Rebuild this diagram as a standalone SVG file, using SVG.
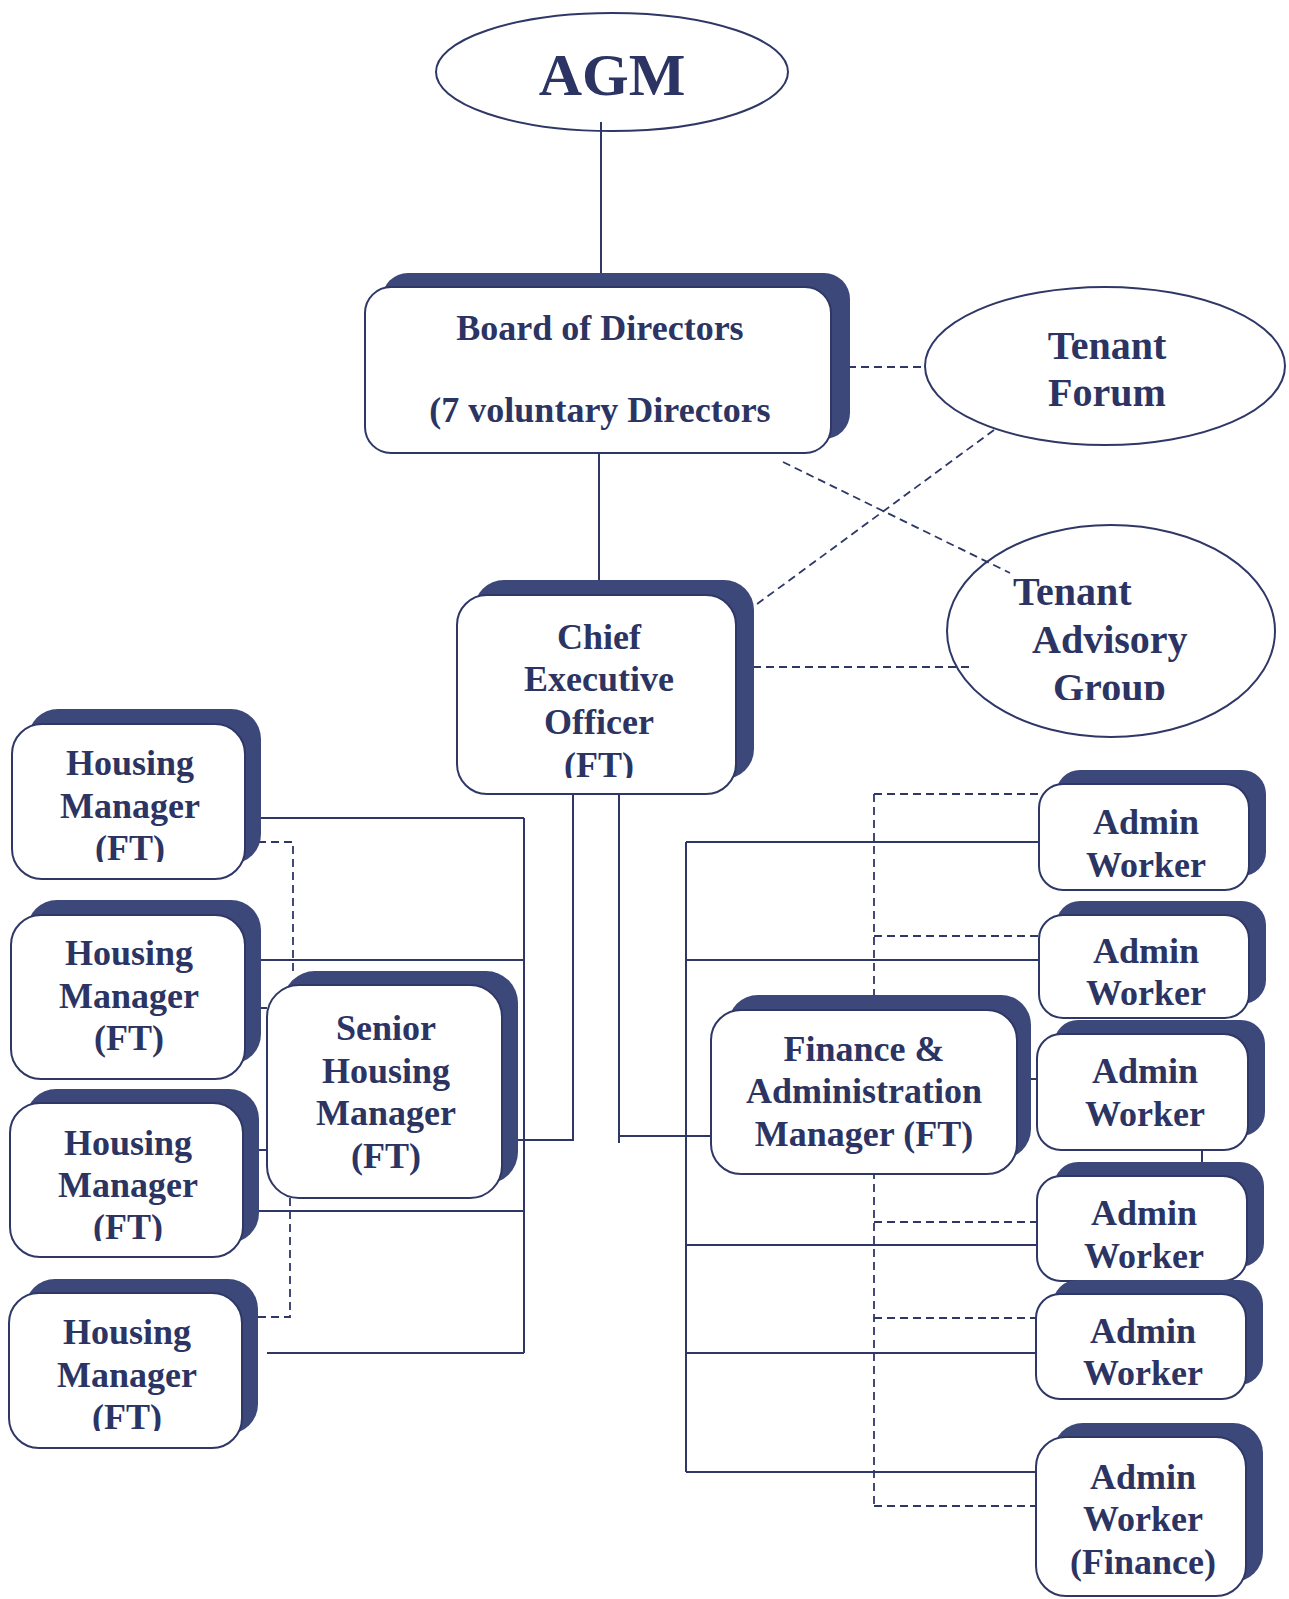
<svg xmlns="http://www.w3.org/2000/svg" width="1289" height="1599" viewBox="0 0 1289 1599">
<style>
.bg{fill:#ffffff}
.sh{fill:#3b4879}
.box{fill:#ffffff;stroke:#2e3766;stroke-width:2}
.ell{fill:none;stroke:#2e3766;stroke-width:2}
.ln{fill:none;stroke:#2e3766;stroke-width:2}
.dash{fill:none;stroke:#2e3766;stroke-width:1.8;stroke-dasharray:8 5}
.t{font-family:"Liberation Serif","Times New Roman",serif;font-weight:bold;fill:#2b3462;text-anchor:middle;font-size:36px}
.tl{font-family:"Liberation Serif","Times New Roman",serif;font-weight:bold;fill:#2b3462;font-size:40px}
</style>
<defs>
<clipPath id="cCEO"><rect x="440" y="560" width="320" height="218"/></clipPath>
<clipPath id="cHM1"><rect x="0" y="700" width="270" height="162"/></clipPath>
<clipPath id="cHM3"><rect x="0" y="1080" width="270" height="161"/></clipPath>
<clipPath id="cHM4"><rect x="0" y="1270" width="270" height="161"/></clipPath>
<clipPath id="cTAG"><rect x="940" y="520" width="340" height="180"/></clipPath>
</defs>
<rect class="bg" x="0" y="0" width="1289" height="1599"/>

<g id="connectors">
<line class="ln" x1="601" y1="122" x2="601" y2="287"/>
<line class="ln" x1="599" y1="453" x2="599" y2="581"/>
<line class="dash" x1="848" y1="367" x2="926" y2="367"/>
<line class="dash" x1="994" y1="430" x2="753" y2="607"/>
<line class="dash" x1="783" y1="462" x2="1010" y2="573"/>
<line class="dash" x1="753" y1="667" x2="969" y2="667"/>
<polyline class="ln" points="573,795 573,1140 502,1140"/>
<polyline class="ln" points="619,795 619,1143"/>
<line class="ln" x1="619" y1="1136" x2="711" y2="1136"/>
<line class="ln" x1="524" y1="818" x2="524" y2="1353"/>
<line class="ln" x1="245" y1="818" x2="524" y2="818"/>
<line class="ln" x1="245" y1="960" x2="524" y2="960"/>
<line class="ln" x1="243" y1="1211" x2="524" y2="1211"/>
<line class="ln" x1="267" y1="1353" x2="524" y2="1353"/>
<line class="ln" x1="245" y1="1008" x2="267" y2="1008"/>
<line class="ln" x1="243" y1="1150" x2="267" y2="1150"/>
<polyline class="dash" points="245,842 293,842 293,971"/>
<polyline class="dash" points="245,1317 290,1317 290,1188"/>
<line class="ln" x1="686" y1="842" x2="686" y2="1472"/>
<line class="ln" x1="686" y1="842" x2="1039" y2="842"/>
<line class="ln" x1="686" y1="960" x2="1039" y2="960"/>
<line class="ln" x1="686" y1="1245" x2="1037" y2="1245"/>
<line class="ln" x1="686" y1="1353" x2="1036" y2="1353"/>
<line class="ln" x1="686" y1="1472" x2="1036" y2="1472"/>
<line class="ln" x1="1017" y1="1079" x2="1037" y2="1079"/>
<line class="ln" x1="1202" y1="1142" x2="1202" y2="1162"/>
<line class="dash" x1="874" y1="794" x2="874" y2="1506"/>
<line class="dash" x1="874" y1="794" x2="1042" y2="794"/>
<line class="dash" x1="874" y1="936" x2="1039" y2="936"/>
<line class="dash" x1="874" y1="1222" x2="1037" y2="1222"/>
<line class="dash" x1="874" y1="1318" x2="1036" y2="1318"/>
<line class="dash" x1="874" y1="1506" x2="1036" y2="1506"/>
</g>

<g id="agm">
<ellipse class="ell" cx="612" cy="72" rx="176" ry="59"/>
<text class="t" x="612" y="95" style="font-size:60px">AGM</text>
</g>

<g id="board">
<rect class="sh" x="382" y="273" width="468" height="166" rx="26"/>
<rect class="box" x="365" y="287" width="466" height="166" rx="26"/>
<text class="t" x="600" y="340">Board of Directors</text>
<text class="t" x="600" y="422">(7 voluntary Directors</text>
</g>

<g id="tenant-forum">
<ellipse class="ell" cx="1105" cy="366" rx="180" ry="79"/>
<text class="tl" x="1107" y="359" text-anchor="middle">Tenant</text>
<text class="tl" x="1107" y="406" text-anchor="middle">Forum</text>
</g>

<g id="tenant-advisory-group">
<ellipse class="ell" cx="1111" cy="631" rx="164" ry="106"/>
<g clip-path="url(#cTAG)">
<text class="tl" x="1013" y="605">Tenant</text>
<text class="tl" x="1032" y="653">Advisory</text>
<text class="tl" x="1053" y="701">Group</text>
</g>
</g>

<g id="ceo">
<rect class="sh" x="474" y="580" width="280" height="199" rx="30"/>
<rect class="box" x="457" y="595" width="279" height="199" rx="30"/>
<g clip-path="url(#cCEO)">
<text class="t" x="599" y="649">Chief</text>
<text class="t" x="599" y="691">Executive</text>
<text class="t" x="599" y="734">Officer</text>
<text class="t" x="599" y="777">(FT)</text>
</g>
</g>

<g id="housing-manager-1">
<rect class="sh" x="28" y="709" width="233" height="155" rx="30"/>
<rect class="box" x="12" y="724" width="233" height="155" rx="30"/>
<g clip-path="url(#cHM1)">
<text class="t" x="130" y="775">Housing</text>
<text class="t" x="130" y="818">Manager</text>
<text class="t" x="130" y="860">(FT)</text>
</g>
</g>

<g id="housing-manager-2">
<rect class="sh" x="27" y="900" width="234" height="164" rx="30"/>
<rect class="box" x="11" y="915" width="234" height="164" rx="30"/>
<text class="t" x="129" y="965">Housing</text>
<text class="t" x="129" y="1008">Manager</text>
<text class="t" x="129" y="1050">(FT)</text>
</g>

<g id="housing-manager-3">
<rect class="sh" x="26" y="1089" width="233" height="154" rx="30"/>
<rect class="box" x="10" y="1103" width="233" height="154" rx="30"/>
<g clip-path="url(#cHM3)">
<text class="t" x="128" y="1155">Housing</text>
<text class="t" x="128" y="1197">Manager</text>
<text class="t" x="128" y="1239">(FT)</text>
</g>
</g>

<g id="housing-manager-4">
<rect class="sh" x="25" y="1279" width="233" height="155" rx="30"/>
<rect class="box" x="9" y="1293" width="233" height="155" rx="30"/>
<g clip-path="url(#cHM4)">
<text class="t" x="127" y="1344">Housing</text>
<text class="t" x="127" y="1387">Manager</text>
<text class="t" x="127" y="1429">(FT)</text>
</g>
</g>

<g id="senior-housing-manager">
<rect class="sh" x="283" y="971" width="235" height="213" rx="32"/>
<rect class="box" x="267" y="985" width="235" height="213" rx="32"/>
<text class="t" x="386" y="1040">Senior</text>
<text class="t" x="386" y="1083">Housing</text>
<text class="t" x="386" y="1125">Manager</text>
<text class="t" x="386" y="1168">(FT)</text>
</g>

<g id="finance-admin-manager">
<rect class="sh" x="728" y="995" width="303" height="164" rx="30"/>
<rect class="box" x="711" y="1010" width="306" height="164" rx="30"/>
<text class="t" x="864" y="1061">Finance &amp;</text>
<text class="t" x="864" y="1103">Administration</text>
<text class="t" x="864" y="1146">Manager (FT)</text>
</g>

<g id="admin-worker-1">
<rect class="sh" x="1056" y="770" width="210" height="106" rx="24"/>
<rect class="box" x="1039" y="784" width="210" height="106" rx="24"/>
<text class="t" x="1146" y="834">Admin</text>
<text class="t" x="1146" y="877">Worker</text>
</g>

<g id="admin-worker-2">
<rect class="sh" x="1056" y="901" width="210" height="103" rx="24"/>
<rect class="box" x="1039" y="915" width="210" height="103" rx="24"/>
<text class="t" x="1146" y="963">Admin</text>
<text class="t" x="1146" y="1005">Worker</text>
</g>

<g id="admin-worker-3">
<rect class="sh" x="1054" y="1020" width="211" height="116" rx="24"/>
<rect class="box" x="1037" y="1034" width="211" height="116" rx="24"/>
<text class="t" x="1145" y="1083">Admin</text>
<text class="t" x="1145" y="1126">Worker</text>
</g>

<g id="admin-worker-4">
<rect class="sh" x="1054" y="1162" width="210" height="105" rx="24"/>
<rect class="box" x="1037" y="1176" width="210" height="105" rx="24"/>
<text class="t" x="1144" y="1225">Admin</text>
<text class="t" x="1144" y="1268">Worker</text>
</g>

<g id="admin-worker-5">
<rect class="sh" x="1053" y="1280" width="210" height="105" rx="24"/>
<rect class="box" x="1036" y="1294" width="210" height="105" rx="24"/>
<text class="t" x="1143" y="1343">Admin</text>
<text class="t" x="1143" y="1385">Worker</text>
</g>

<g id="admin-worker-finance">
<rect class="sh" x="1053" y="1423" width="210" height="159" rx="30"/>
<rect class="box" x="1036" y="1437" width="210" height="159" rx="30"/>
<text class="t" x="1143" y="1489">Admin</text>
<text class="t" x="1143" y="1531">Worker</text>
<text class="t" x="1143" y="1574">(Finance)</text>
</g>
</svg>
